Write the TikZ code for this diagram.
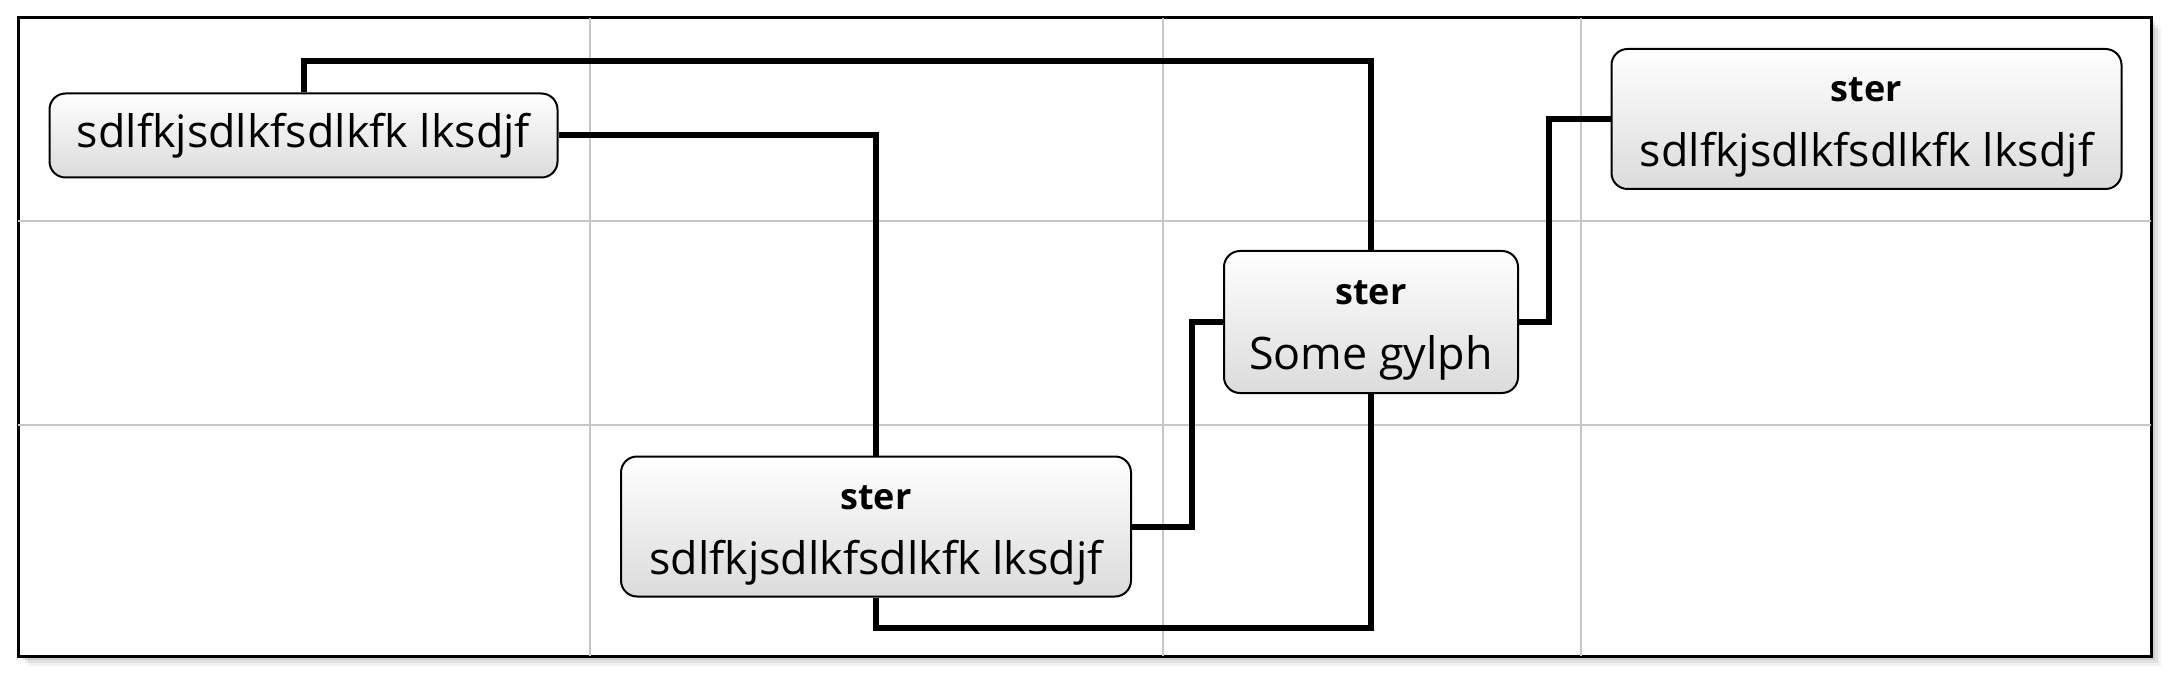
\documentclass[tikz,border=0pt]{standalone}
\usepackage{fontspec}
\setmainfont{Open Sans}
\tikzset{
  box/.style={draw=black, line width=1pt, rounded corners=8pt,
    top color=white, bottom color=black!14, align=center, inner sep=0pt,
    font=\fontsize{22.4}{26}\selectfont},
  wire/.style={line width=3pt},
  grid line/.style={draw=black!22, line width=0.7pt},
}
\newcommand{\boxtitle}[1]{{\rule{0pt}{20.5pt}\bfseries\fontsize{18}{22}\selectfont #1}}

\begin{document}
\begin{tikzpicture}[x=0.5pt, y=-0.5pt]
\useasboundingbox (0,0) rectangle (2178,684);

% frame with soft shadow
\foreach \s/\o in {10/0.05,7/0.07,4/0.09}
  \fill[black, opacity=\o] (18+\s,18+\s) rectangle (2151+\s,656+\s);
\draw[line width=1.5pt, fill=white] (18,18) rectangle (2151,656);

% grid
\foreach \gx in {590,1163,1581}
  \draw[grid line] (\gx,18) -- (\gx,656);
\foreach \gy in {221,425}
  \draw[grid line] (18,\gy) -- (2151,\gy);

% routing levels
\coordinate (upper) at (0,61);
\coordinate (lower) at (0,628);
\coordinate (bendDC) at (1192,0);
\coordinate (bendCB) at (1549,0);

% nodes
\node[box, minimum width=254pt, minimum height=42pt] (left) at (303.5,135.5)
  {sdlfkjsdlkfsdlkfk lksdjf};
\node[box, minimum width=255pt, minimum height=70pt] (right) at (1866.5,119)
  {\boxtitle{ster}\\[6.5pt] sdlfkjsdlkfsdlkfk lksdjf};
\node[box, minimum width=147pt, minimum height=71pt] (glyph) at (1371,322)
  {\boxtitle{ster}\\[6.5pt] Some gylph};
\node[box, minimum width=255pt, minimum height=70pt] (bottom) at (876,526.5)
  {\boxtitle{ster}\\[6.5pt] sdlfkjsdlkfsdlkfk lksdjf};

% connectors
\draw[wire] (left.north) -- (left.north |- upper) -- (glyph.north |- upper) -- (glyph.north);
\draw[wire] (left.east) -| (bottom.north);
\draw[wire] (bottom.east) -- (bottom.east -| bendDC) -- (glyph.west -| bendDC) -- (glyph.west);
\draw[wire] (glyph.east) -- (glyph.east -| bendCB) -- (right.west -| bendCB) -- (right.west);
\draw[wire] (bottom.south) -- (bottom.south |- lower) -- (glyph.south |- lower) -- (glyph.south);

\end{tikzpicture}
\end{document}
